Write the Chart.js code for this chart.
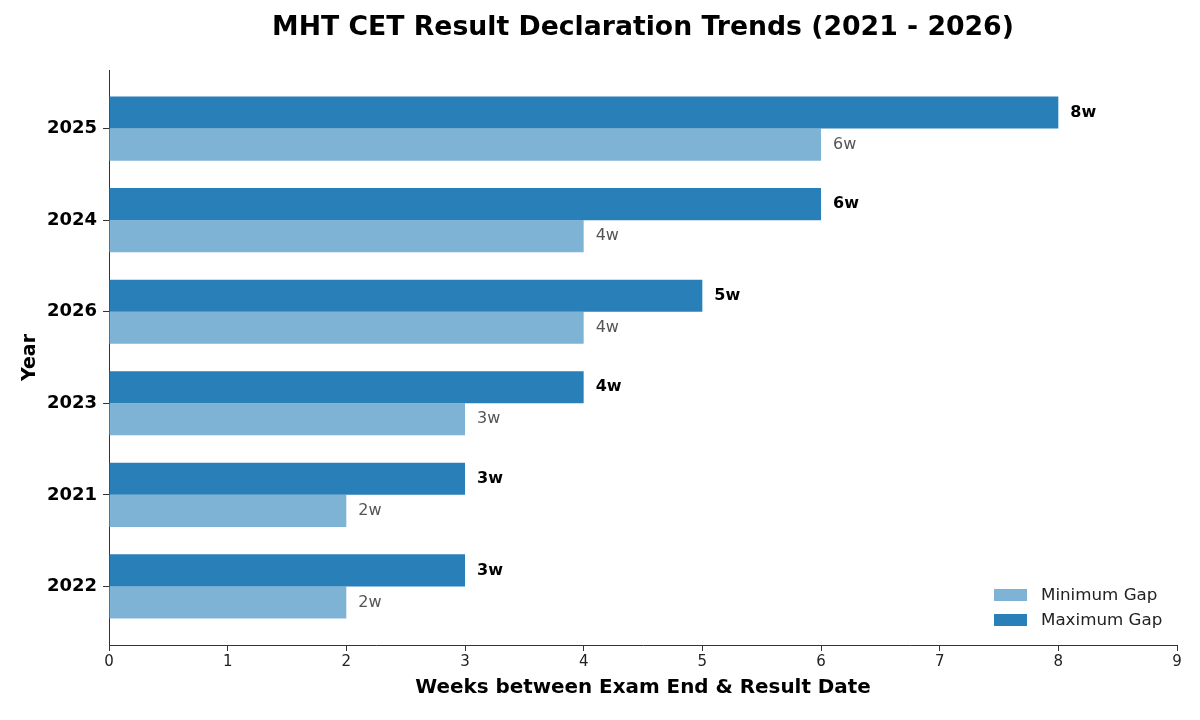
<!DOCTYPE html>
<html>
<head>
<meta charset="utf-8">
<script src="https://cdn.jsdelivr.net/npm/chart.js@4/dist/chart.umd.min.js"></script>
<style>
  html, body { margin:0; padding:0; background:#fff; }
  #wrap { width:1200px; height:720px; position:relative; }
</style>
</head>
<body>
<div id="wrap"><canvas id="c" width="1200" height="720"></canvas></div>
<script>
// sorted by max gap, top to bottom
const years = ['2025', '2024', '2026', '2023', '2021', '2022'];
const minGap = [6, 4, 4, 3, 2, 2];
const maxGap = [8, 6, 5, 4, 3, 3];
const xTicks = [0, 1, 2, 3, 4, 5, 6, 7, 8, 9];

const FONT = '"DejaVu Sans", sans-serif';
const C_MIN = '#7fb3d5';
const C_MAX = '#2980b9';

const extras = {
  id: 'extras',
  afterDraw(chart) {
    const { ctx, chartArea: a } = chart;
    ctx.save();
    // title
    ctx.fillStyle = '#000';
    ctx.font = 'bold 26.7px ' + FONT;
    ctx.textAlign = 'center';
    ctx.textBaseline = 'middle';
    ctx.fillText('MHT CET Result Declaration Trends (2021 - 2026)', 643, 28);

    // value labels
    chart.data.datasets.forEach((ds, di) => {
      const meta = chart.getDatasetMeta(di);
      meta.data.forEach((bar, i) => {
        const isMax = ds.label === 'Maximum Gap';
        ctx.font = (isMax ? 'bold ' : '') + '16px ' + FONT;
        ctx.fillStyle = isMax ? '#000' : '#555';
        ctx.textAlign = 'left';
        ctx.textBaseline = 'middle';
        ctx.fillText(ds.data[i].x + 'w', bar.x + 12, bar.y);
      });
    });

    // legend, bottom right inside the plot
    const items = [['Minimum Gap', C_MIN], ['Maximum Gap', C_MAX]];
    ctx.font = '16.7px ' + FONT;
    items.forEach(([txt, col], k) => {
      const y = a.bottom - 50 + k * 25;
      ctx.fillStyle = col;
      ctx.fillRect(994, y - 6, 33, 12);
      ctx.fillStyle = '#222';
      ctx.textAlign = 'left';
      ctx.fillText(txt, 1041, y + 1);
    });
    ctx.restore();
  }
};

new Chart(document.getElementById('c'), {
  type: 'bar',
  data: {
    datasets: [
      { label: 'Maximum Gap', data: maxGap.map((v, i) => ({ x: v, y: i })), backgroundColor: C_MAX },
      { label: 'Minimum Gap', data: minGap.map((v, i) => ({ x: v, y: i })), backgroundColor: C_MIN }
    ]
  },
  options: {
    indexAxis: 'y',
    responsive: false,
    animation: false,
    devicePixelRatio: 1,
    categoryPercentage: 0.7,
    barPercentage: 1.0,
    layout: { padding: { top: 70, right: 23, left: 0, bottom: 0 } },
    plugins: {
      legend: { display: false },
      title: { display: false },
      tooltip: { enabled: false }
    },
    scales: {
      x: {
        type: 'linear',
        min: 0, max: 9,
        afterBuildTicks: s => { s.ticks = xTicks.map(v => ({ value: v })); },
        afterFit: s => { s.height = 75; },
        grid: { drawOnChartArea: false, tickLength: 6, color: '#333' },
        border: { color: '#333' },
        ticks: { color: '#222', font: { family: FONT, size: 15 }, padding: 2 },
        title: { display: true, text: 'Weeks between Exam End & Result Date', color: '#000',
                 font: { family: FONT, size: 19.9, weight: 'bold' }, padding: { top: 4, bottom: 20 } }
      },
      y: {
        type: 'linear',
        reverse: true,
        offset: false,
        min: -0.64, max: 5.64,
        afterBuildTicks: s => { s.ticks = years.map((_, i) => ({ value: i })); },
        afterFit: s => { s.width = 109; },
        grid: { drawOnChartArea: false, tickLength: 6, color: '#333', offset: false },
        border: { color: '#333' },
        ticks: { color: '#000', font: { family: FONT, size: 18, weight: 'bold' }, padding: 6,
                 callback: v => years[v] },
        title: { display: true, text: 'Year', color: '#000',
                 font: { family: FONT, size: 19, weight: 'bold' }, padding: { top: 19, bottom: 4 } }
      }
    }
  },
  plugins: [extras]
});
</script>
</body>
</html>
